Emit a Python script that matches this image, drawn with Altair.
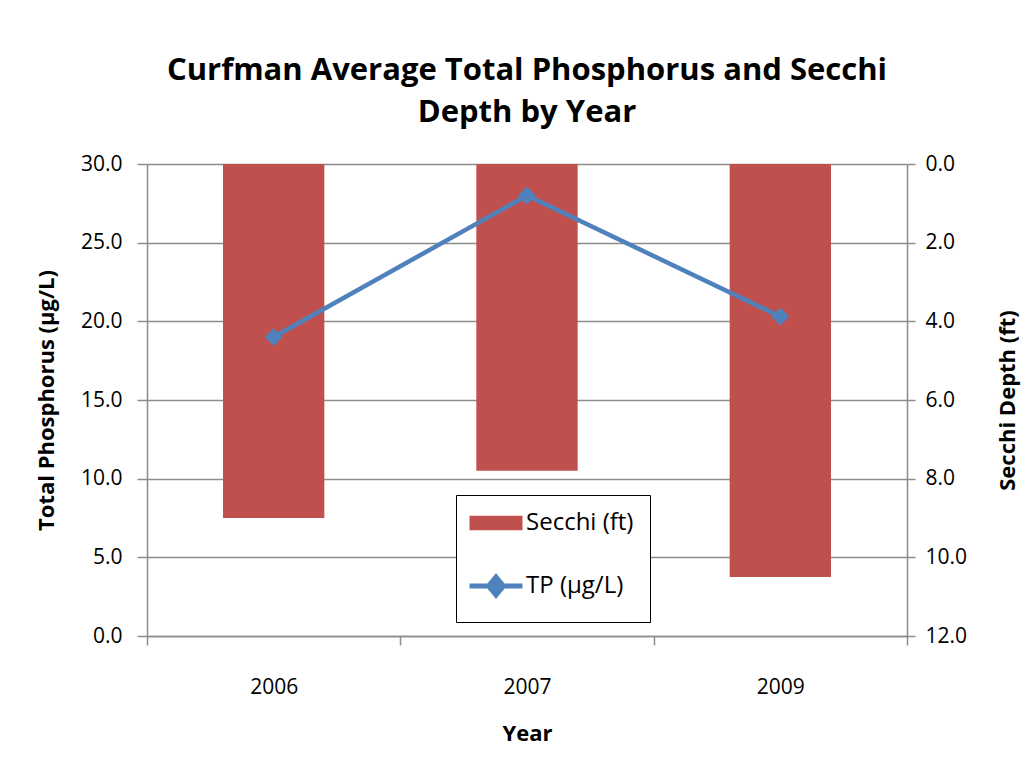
import altair as alt
import pandas as pd

years = ["2006", "2007", "2009"]
secchi_ft = [9.0, 7.8, 10.5]
tp_ugl = [19.0, 28.0, 20.3]
series_names = ["Secchi (ft)", "TP (µg/L)"]
series_colors = ["#C0504D", "#4F81BD"]
left_ticks = [0, 5, 10, 15, 20, 25, 30]
right_ticks = [0, 2, 4, 6, 8, 10, 12]

df = pd.DataFrame({"Year": years, "Secchi": secchi_ft, "TP": tp_ugl})
df_bar = df.assign(series=series_names[0])
df_line = df.assign(series=series_names[1])

FONT = "Open Sans"
GRAY = "#8C8C8C"

x_enc = alt.X(
    "Year:N",
    title="Year",
    scale=alt.Scale(paddingInner=0, paddingOuter=0),
    axis=alt.Axis(labelAngle=0, tickBand="extent", grid=False, tickSize=9,
                  labelPadding=31, titlePadding=26),
)

is_secchi = "datum.value == 'Secchi (ft)'"
legend = alt.Legend(
    title=None, orient="none", legendX=309, legendY=331,
    strokeColor="black", fillColor="white", padding=16,
    rowPadding=31, labelFontSize=24, labelFont=FONT, labelColor="black",
    symbolOffset=12, labelOffset=18, symbolSize=2809,
    symbolType={"expr": f"{is_secchi} ? 'M-1,-0.27H1V0.27H-1Z' : 'M-1,0H1M0,-0.34L0.28,0L0,0.34L-0.28,0Z'"},
    symbolStrokeWidth={"expr": f"{is_secchi} ? 0 : 5"},
    symbolStrokeColor={"expr": f"{is_secchi} ? '{series_colors[0]}' : '{series_colors[1]}'"},
    symbolFillColor={"expr": f"{is_secchi} ? '{series_colors[0]}' : '{series_colors[1]}'"},
    symbolOpacity=1,
)
color_enc = alt.Color("series:N", scale=alt.Scale(domain=series_names, range=series_colors), legend=legend)

bars = alt.Chart(df_bar).mark_bar(width=alt.RelativeBandSize(0.4), opacity=1).encode(
    x=x_enc,
    y=alt.Y("Secchi:Q", title="Secchi Depth (ft)",
            scale=alt.Scale(domain=[0, 12], reverse=True, nice=False),
            axis=alt.Axis(orient="right", values=right_ticks, format=".1f", grid=False,
                          tickSize=8, labelPadding=10, titlePadding=53, titleAngle=270)),
    color=color_enc,
)

line = alt.Chart(df_line).mark_line(
    strokeWidth=4.5,
    point=alt.OverlayMarkDef(shape="diamond", size=320, filled=True, opacity=1, color=series_colors[1]),
).encode(
    x=x_enc,
    y=alt.Y("TP:Q", title="Total Phosphorus (µg/L)",
            scale=alt.Scale(domain=[0, 30], nice=False),
            axis=alt.Axis(orient="left", values=left_ticks, format=".1f", grid=True,
                          tickSize=10, labelPadding=15, titlePadding=22)),
    color=color_enc,
)

chart = alt.layer(bars, line).resolve_scale(y="independent").properties(
    width=760, height=472,
    title=alt.TitleParams(
        text=["Curfman Average Total Phosphorus and Secchi", "Depth by Year"],
        fontSize=31, font=FONT, fontWeight="bold", color="black",
        lineHeight=42, anchor="middle", offset=24,
    ),
    padding={"left": 27, "top": 47, "right": 2, "bottom": 5},
).configure_view(stroke=None).configure_axis(
    labelFont=FONT, labelFontSize=21, labelColor="black",
    titleFont=FONT, titleFontSize=22, titleFontWeight="bold", titleColor="black",
    domainColor=GRAY, domainWidth=1.5, tickColor=GRAY, tickWidth=1.5,
    gridColor=GRAY, gridWidth=1.5,
)

chart.save("out.html", embed_options={"renderer": "svg", "actions": False})
